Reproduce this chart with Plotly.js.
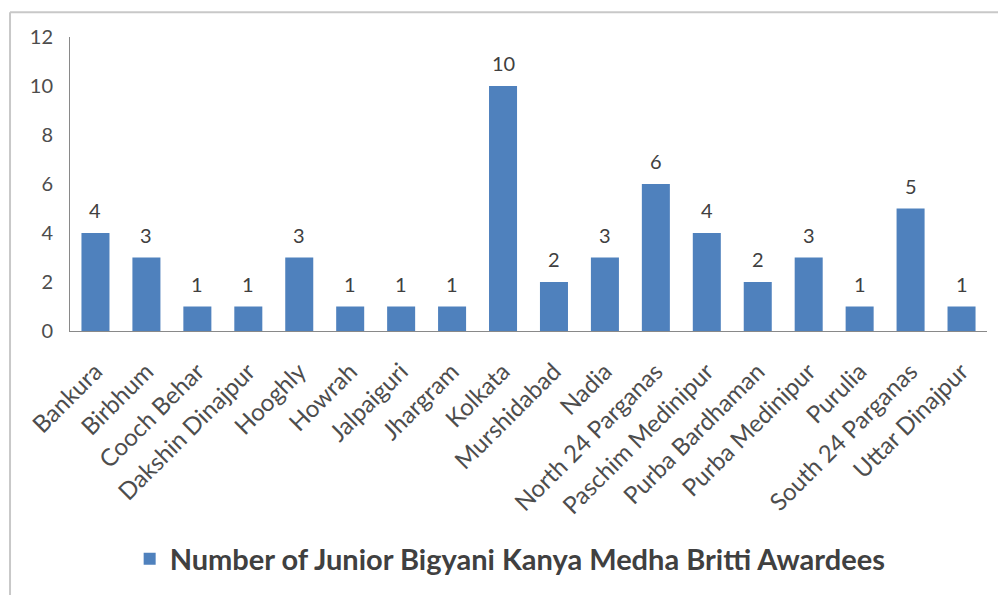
<!DOCTYPE html>
<html>
<head>
<meta charset="utf-8">
<script src="https://cdn.plot.ly/plotly-3.0.1.min.js"></script>
<style>
html,body{margin:0;padding:0;background:#fff;}
#chart{width:998px;height:595px;}
</style>
</head>
<body>
<div id="chart"></div>
<script>
var districts = ["Bankura","Birbhum","Cooch Behar","Dakshin Dinajpur","Hooghly","Howrah","Jalpaiguri","Jhargram","Kolkata","Murshidabad","Nadia","North 24 Parganas","Paschim Medinipur","Purba Bardhaman","Purba Medinipur","Purulia","South 24 Parganas","Uttar Dinajpur"];
var awardees = [4,3,1,1,3,1,1,1,10,2,3,6,4,2,3,1,5,1];
var seriesName = "Number of Junior Bigyani Kanya Medha Britti Awardees";
var yTicks = [0,2,4,6,8,10,12];

var trace = {
  type: "bar",
  x: districts,
  y: awardees,
  name: seriesName,
  marker: {color: "#4f81bd"},
  cliponaxis: false,
  hoverinfo: "x+y"
};

var valueLabels = districts.map(function (d, i) {
  return {
    x: d, y: awardees[i], xref: "x", yref: "y",
    text: String(awardees[i]), showarrow: false,
    yanchor: "bottom", yshift: 9,
    font: {family: "Lato, sans-serif", size: 20, color: "#404040"}
  };
});

var layout = {
  width: 998, height: 595,
  margin: {l: 70, r: 11, t: 37, b: 261},
  paper_bgcolor: "#fff", plot_bgcolor: "#fff",
  bargap: 0.45,
  showlegend: true,
  legend: {
    orientation: "h", x: 0.48, xanchor: "center", y: -0.775, yanchor: "middle",
    font: {family: "Lato, sans-serif", size: 29, color: "#404040", weight: "bold"},
    itemwidth: 30
  },
  annotations: valueLabels,
  xaxis: {
    type: "category",
    tickangle: -45,
    tickfont: {family: "Lato, sans-serif", size: 24, color: "#4d4d4d"},
    showline: true, linecolor: "#898989", linewidth: 1,
    ticks: "", showgrid: false, zeroline: false,
    ticklabelstandoff: 16
  },
  yaxis: {
    range: [0, 12],
    tickvals: yTicks,
    ticktext: yTicks.map(String),
    tickfont: {family: "Lato, sans-serif", size: 20, color: "#4d4d4d"},
    showline: true, linecolor: "#898989", linewidth: 1,
    ticks: "", showgrid: false, zeroline: false,
    ticklabelstandoff: 12
  },
  shapes: [
    {type: "line", xref: "paper", yref: "paper", x0: -0.0654, x1: -0.0654, y0: 1.084, y1: -0.9, line: {color: "#c8c8c8", width: 2}},
    {type: "line", xref: "paper", yref: "paper", x0: -0.0654, x1: 1.05, y0: 1.084, y1: 1.084, line: {color: "#c8c8c8", width: 2}}
  ]
};

Plotly.newPlot("chart", [trace], layout, {displayModeBar: false, staticPlot: true});
</script>
</body>
</html>
